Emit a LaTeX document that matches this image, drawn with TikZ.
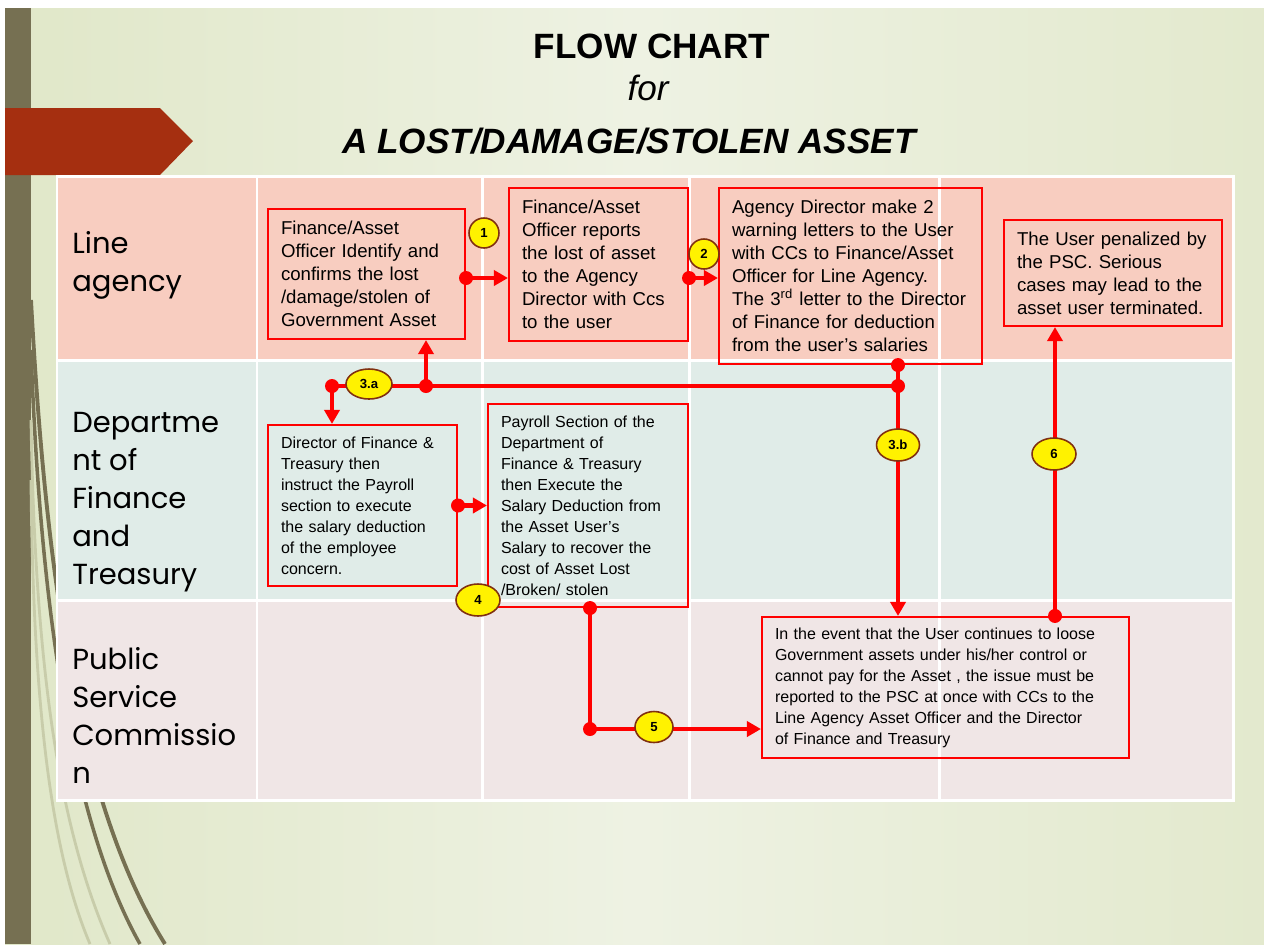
\documentclass[tikz,border=0pt]{standalone}
\usepackage{fontspec}
\setmainfont{Liberation Sans}
\newfontfamily\labelfont{Poppins}
\usetikzlibrary{arrows.meta,shapes.geometric}

\definecolor{slidegreen}{RGB}{224,231,200}
\definecolor{slidelight}{RGB}{238,242,227}
\definecolor{stripolive}{RGB}{118,112,82}
\definecolor{tagred}{RGB}{165,47,16}
\definecolor{rowpink}{RGB}{248,205,192}
\definecolor{rowteal}{RGB}{224,236,232}
\definecolor{rowrose}{RGB}{240,230,230}
\definecolor{badgebrown}{RGB}{128,48,16}
\definecolor{swirllight}{RGB}{200,204,170}

\tikzset{
  flowbox/.style={draw=red, line width=1.2pt, rectangle, inner xsep=0.26cm, inner ysep=0pt,
    align=left, font=\fontsize{10.6}{13.1}\selectfont},
  smallbox/.style={flowbox, font=\fontsize{9.1}{11.95}\selectfont},
  badge/.style={ellipse, draw=badgebrown, line width=0.9pt, fill=yellow, inner sep=0pt,
    font=\bfseries\fontsize{7.5}{8}\selectfont},
  link/.style={red, line width=2.3pt},
  linkarrow/.style={link, -{Triangle[length=0.28cm,width=0.3cm]}},
  rowlabel/.style={anchor=north west, inner sep=0pt, align=left,
    font=\labelfont\fontsize{16.5}{21.6}\selectfont},
  gridline/.style={white, line width=1.7pt}
}
\def\dotat(#1){\fill[red] (#1) circle[radius=0.14cm];}

\begin{document}
\begin{tikzpicture}[x=0.02cm,y=-0.02cm]
		%%%%% SLIDE %%%%%
		\useasboundingbox (0,0) rectangle (1264,944);
		\fill[white] (0,0) rectangle (1264,944);
		\shade[left color=slidegreen, right color=slidegreen!80!slidelight, middle color=slidelight] (5,8) rectangle (1264,944);
		\fill[stripolive] (5,8) rectangle (31,944);
		
		\draw[stripolive, line width=2.2pt] (31,300) .. controls (45,560) and (75,800) .. (165,944);
		\draw[stripolive, line width=2pt] (31,350) .. controls (40,600) and (70,820) .. (140,944);
		\draw[swirllight, line width=1.6pt] (31,420) .. controls (35,650) and (55,820) .. (110,944);
		\draw[swirllight, line width=1.6pt] (31,480) .. controls (33,700) and (50,850) .. (90,944);
		
		\fill[tagred] (5,108) -- (160,108) -- (193,141) -- (160,175) -- (5,175) -- cycle;
		
		%%%%% TITLE %%%%%
		\node[anchor=base, font=\bfseries\fontsize{20}{24}\selectfont] (ttlflow) at (652,58) {FLOW CHART};
		\node[anchor=base, font=\itshape\fontsize{20}{24}\selectfont] (ttlfor) at (648,100) {for};
		\node[anchor=base, font=\bfseries\itshape\fontsize{20}{24}\selectfont] (ttlasset) at (629,153) {A LOST/DAMAGE/STOLEN ASSET};
		
		%%%%% TABLE %%%%%
		\fill[rowpink] (57,176) rectangle (1233,360);
		\fill[rowteal] (57,360) rectangle (1233,600);
		\fill[rowrose] (57,600) rectangle (1233,800);
		\foreach \gx in {257,482,689,939}
			\draw[gridline] (\gx,176) -- (\gx,800);
		\foreach \gy in {360,600}
			\draw[gridline] (57,\gy) -- (1233,\gy);
		\draw[gridline] (57,176) rectangle (1233,800);
		
		\node[rowlabel] (lineag) at (72,231) {Line\\agency};
		\node[rowlabel] (dft) at (72,412) {Departme\\nt of\\Finance\\and\\Treasury};
		\node[rowlabel] (psc) at (72,647) {Public\\Service\\Commissio\\n};
		
		%%%%% BOXES %%%%%
		\node[flowbox, text width=3.42cm, minimum width=3.94cm, minimum height=2.6cm] (b1) at (366.5,274)
			{Finance/Asset\\Officer Identify and\\confirms the lost\\/damage/stolen of\\Government Asset};
		\node[flowbox, text width=3.06cm, minimum width=3.58cm, minimum height=3.06cm] (b2) at (598.5,264.5)
			{Finance/Asset\\Officer reports\\the lost of asset\\to the Agency\\Director with Ccs\\to the user};
		\node[flowbox, text width=4.74cm, minimum width=5.26cm, minimum height=3.52cm] (b3) at (850.5,276)
			{Agency Director make 2\\warning letters to the User\\with CCs to Finance/Asset\\Officer for Line Agency.\\The 3\textsuperscript{rd} letter to the Director\\of Finance for deduction\\from the user’s salaries};
		\node[flowbox, text width=3.84cm, minimum width=4.36cm, minimum height=2.12cm] (b4) at (1113,273)
			{The User penalized by\\the PSC. Serious\\cases may lead to the\\asset user terminated.};
		\node[smallbox, text width=3.26cm, minimum width=3.78cm, minimum height=3.22cm] (b5) at (362.5,505.5)
			{Director of Finance \&\\Treasury then\\instruct the Payroll\\section to execute\\the salary deduction\\of the employee\\concern.};
		\node[smallbox, text width=3.48cm, minimum width=4cm, minimum height=4.06cm] (b6) at (588,505.5)
			{Payroll Section of the\\Department of\\Finance \& Treasury\\then Execute the\\Salary Deduction from\\the Asset User’s\\Salary to recover the\\cost of Asset Lost\\/Broken/ stolen};
		\node[smallbox, text width=6.82cm, minimum width=7.34cm, minimum height=2.82cm] (b7) at (945.5,687.5)
			{In the event that the User continues to loose\\Government assets under his/her control or\\cannot pay for the Asset , the issue must be\\reported to the PSC at once with CCs to the\\Line Agency Asset Officer and the Director\\of Finance and Treasury};
		
		%%%%% LINKS %%%%%
		\coordinate (r1) at (0,278);
		\coordinate (j3) at (898,386);
		\coordinate (j3a) at (426,386);
		\coordinate (j3c) at (332,386);
		\coordinate (j5) at (590,729);
		\coordinate (c6) at (1055,0);
		
		\draw[linkarrow] (b1.east |- r1) -- (b2.west |- r1);
		\dotat(b1.east |- r1)
		\draw[linkarrow] (b2.east |- r1) -- (b3.west |- r1);
		\dotat(b2.east |- r1)
		
		\draw[link] (j3 |- b3.south) -- (j3) -- (j3c);
		\draw[linkarrow] (j3a) -- (j3a |- b1.south);
		\draw[linkarrow] (j3c) -- (j3c |- b5.north);
		\draw[linkarrow] (j3) -- (j3 |- b7.north);
		\dotat(j3 |- b3.south)
		\dotat(j3)
		\dotat(j3a)
		\dotat(j3c)
		
		\draw[linkarrow] (b5.east) -- (b6.west);
		\dotat(b5.east)
		
		\draw[link] (j5 |- b6.south) -- (j5);
		\draw[linkarrow] (j5) -- (j5 -| b7.west);
		\dotat(j5 |- b6.south)
		\dotat(j5)
		
		\draw[linkarrow] (c6 |- b7.north) -- (c6 |- b4.south);
		\dotat(c6 |- b7.north)
		
		%%%%% BADGES %%%%%
		\node[badge, minimum width=0.6cm, minimum height=0.6cm] (n1) at (484,233) {1};
		\node[badge, minimum width=0.6cm, minimum height=0.6cm] (n2) at (704,254) {2};
		\node[badge, minimum width=0.92cm, minimum height=0.6cm] (n3a) at (369,384) {3.a};
		\node[badge, minimum width=0.86cm, minimum height=0.64cm] (n3b) at (898,445) {3.b};
		\node[badge, minimum width=0.88cm, minimum height=0.64cm] (n4) at (478,600) {4};
		\node[badge, minimum width=0.76cm, minimum height=0.62cm] (n5) at (654,727) {5};
		\node[badge, minimum width=0.88cm, minimum height=0.64cm] (n6) at (1054,454) {6};
	\end{tikzpicture}
\end{document}
